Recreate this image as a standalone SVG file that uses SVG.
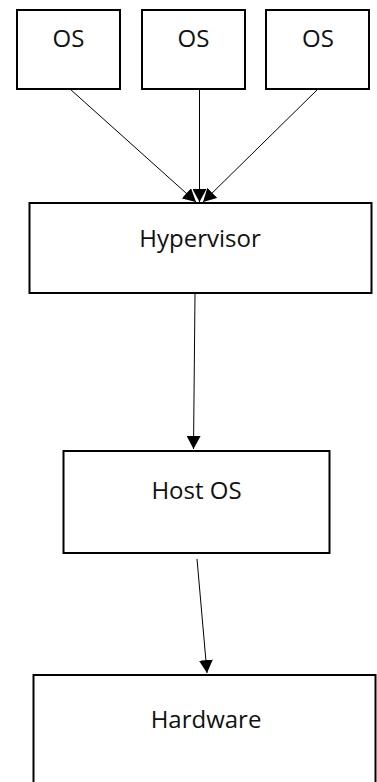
<svg xmlns="http://www.w3.org/2000/svg" width="377" height="782" viewBox="0 0 377 782">
<style>
.box{fill:#fff;stroke:#000;stroke-width:2}
.lbl{font-family:"Open Sans","Liberation Sans",sans-serif;font-size:24px;fill:#111;text-anchor:middle}
.edge{stroke:#000;stroke-width:1;fill:none;marker-end:url(#ah)}
</style>
<defs>
<marker id="ah" viewBox="0 0 13 14" refX="13" refY="7" markerWidth="13" markerHeight="14" markerUnits="userSpaceOnUse" orient="auto">
<path d="M0,0 L13,7 L0,14 z" fill="#000"/>
</marker>
</defs>
<rect width="377" height="782" fill="#fff"/>
<g id="connectors">
<line class="edge" x1="70" y1="89" x2="196" y2="202"/>
<line class="edge" x1="199.5" y1="89" x2="199.5" y2="202"/>
<line class="edge" x1="318" y1="89" x2="203" y2="202"/>
<line class="edge" x1="195" y1="294" x2="193.5" y2="449"/>
<line class="edge" x1="197" y1="559" x2="207" y2="673"/>
</g>
<g id="os1"><rect class="box" x="17" y="10" width="103" height="79"/><text class="lbl" x="68.5" y="47">OS</text></g>
<g id="os2"><rect class="box" x="142" y="10" width="103" height="79"/><text class="lbl" x="193.5" y="47">OS</text></g>
<g id="os3"><rect class="box" x="266" y="10" width="103" height="79"/><text class="lbl" x="318" y="47">OS</text></g>
<g id="hypervisor"><rect class="box" x="29.5" y="203" width="342" height="90"/><text class="lbl" x="200" y="246.5">Hypervisor</text></g>
<g id="hostos"><rect class="box" x="63.5" y="451" width="266" height="102"/><text class="lbl" x="196.5" y="499">Host OS</text></g>
<g id="hardware"><rect class="box" x="33.5" y="675" width="342" height="120"/><text class="lbl" x="206" y="727.5">Hardware</text></g>
</svg>
